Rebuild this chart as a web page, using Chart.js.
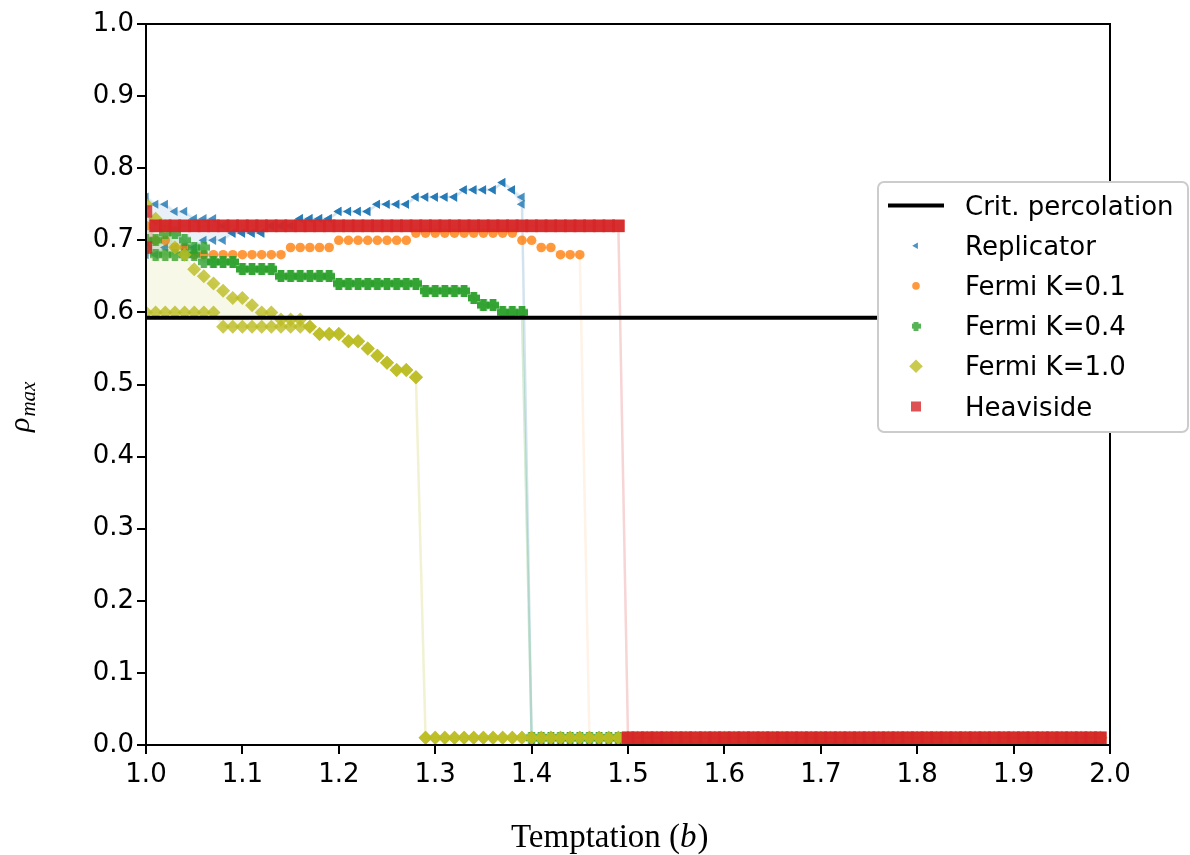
<!DOCTYPE html>
<html><head><meta charset="utf-8">
<script src="https://cdn.jsdelivr.net/npm/chart.js@4.4.0/dist/chart.umd.min.js"></script>
<style>html,body{margin:0;padding:0;background:#fff;}canvas{display:block;}</style>
</head><body>
<canvas id="c" width="1190" height="855"></canvas>
<script>
// ---------------- DATA ----------------
const bValues = [
 1.00,1.01,1.02,1.03,1.04,1.05,1.06,1.07,1.08,1.09,
 1.10,1.11,1.12,1.13,1.14,1.15,1.16,1.17,1.18,1.19,
 1.20,1.21,1.22,1.23,1.24,1.25,1.26,1.27,1.28,1.29,
 1.30,1.31,1.32,1.33,1.34,1.35,1.36,1.37,1.38,1.39,
 1.40,1.41,1.42,1.43,1.44,1.45,1.46,1.47,1.48,1.49,
 1.50,1.51,1.52,1.53,1.54,1.55,1.56,1.57,1.58,1.59,
 1.60,1.61,1.62,1.63,1.64,1.65,1.66,1.67,1.68,1.69,
 1.70,1.71,1.72,1.73,1.74,1.75,1.76,1.77,1.78,1.79,
 1.80,1.81,1.82,1.83,1.84,1.85,1.86,1.87,1.88,1.89,
 1.90,1.91,1.92,1.93,1.94,1.95,1.96,1.97,1.98,1.99];

const replicatorHi = [
 0.76,0.75,0.75,0.74,0.74,0.73,0.73,0.73,0.72,0.71,
 0.71,0.71,0.71,0.72,0.72,0.72,0.73,0.73,0.73,0.73,
 0.74,0.74,0.74,0.74,0.75,0.75,0.75,0.75,0.76,0.76,
 0.76,0.76,0.76,0.77,0.77,0.77,0.77,0.78,0.77,0.76,
 0.01,0.01,0.01,0.01,0.01,0.01,0.01,0.01,0.01,0.01,
 0.01,0.01,0.01,0.01,0.01,0.01,0.01,0.01,0.01,0.01,
 0.01,0.01,0.01,0.01,0.01,0.01,0.01,0.01,0.01,0.01,
 0.01,0.01,0.01,0.01,0.01,0.01,0.01,0.01,0.01,0.01,
 0.01,0.01,0.01,0.01,0.01,0.01,0.01,0.01,0.01,0.01,
 0.01,0.01,0.01,0.01,0.01,0.01,0.01,0.01,0.01,0.01];
const replicatorLo = [
 0.68,0.68,0.69,0.69,0.69,0.69,0.70,0.70,0.70,0.71,
 0.71,0.71,0.71,0.72,0.72,0.72,0.73,0.73,0.73,0.73,
 0.74,0.74,0.74,0.74,0.75,0.75,0.75,0.75,0.76,0.76,
 0.76,0.76,0.76,0.77,0.77,0.77,0.77,0.78,0.77,0.75,
 0.01,0.01,0.01,0.01,0.01,0.01,0.01,0.01,0.01,0.01,
 0.01,0.01,0.01,0.01,0.01,0.01,0.01,0.01,0.01,0.01,
 0.01,0.01,0.01,0.01,0.01,0.01,0.01,0.01,0.01,0.01,
 0.01,0.01,0.01,0.01,0.01,0.01,0.01,0.01,0.01,0.01,
 0.01,0.01,0.01,0.01,0.01,0.01,0.01,0.01,0.01,0.01,
 0.01,0.01,0.01,0.01,0.01,0.01,0.01,0.01,0.01,0.01];
const fermiK01 = [
 0.72,0.70,0.70,0.69,0.69,0.68,0.68,0.68,0.68,0.68,
 0.68,0.68,0.68,0.68,0.68,0.69,0.69,0.69,0.69,0.69,
 0.70,0.70,0.70,0.70,0.70,0.70,0.70,0.70,0.71,0.71,
 0.71,0.71,0.71,0.71,0.71,0.71,0.71,0.71,0.71,0.70,
 0.70,0.69,0.69,0.68,0.68,0.68,0.01,0.01,0.01,0.01,
 0.01,0.01,0.01,0.01,0.01,0.01,0.01,0.01,0.01,0.01,
 0.01,0.01,0.01,0.01,0.01,0.01,0.01,0.01,0.01,0.01,
 0.01,0.01,0.01,0.01,0.01,0.01,0.01,0.01,0.01,0.01,
 0.01,0.01,0.01,0.01,0.01,0.01,0.01,0.01,0.01,0.01,
 0.01,0.01,0.01,0.01,0.01,0.01,0.01,0.01,0.01,0.01];
const fermiK04Hi = [
 0.70,0.70,0.71,0.71,0.70,0.69,0.69,0.67,0.67,0.67,
 0.66,0.66,0.66,0.66,0.65,0.65,0.65,0.65,0.65,0.65,
 0.64,0.64,0.64,0.64,0.64,0.64,0.64,0.64,0.64,0.63,
 0.63,0.63,0.63,0.63,0.62,0.61,0.61,0.60,0.60,0.60,
 0.01,0.01,0.01,0.01,0.01,0.01,0.01,0.01,0.01,0.01,
 0.01,0.01,0.01,0.01,0.01,0.01,0.01,0.01,0.01,0.01,
 0.01,0.01,0.01,0.01,0.01,0.01,0.01,0.01,0.01,0.01,
 0.01,0.01,0.01,0.01,0.01,0.01,0.01,0.01,0.01,0.01,
 0.01,0.01,0.01,0.01,0.01,0.01,0.01,0.01,0.01,0.01,
 0.01,0.01,0.01,0.01,0.01,0.01,0.01,0.01,0.01,0.01];
const fermiK04Lo = [
 0.69,0.68,0.68,0.68,0.68,0.68,0.67,0.67,0.67,0.67,
 0.66,0.66,0.66,0.66,0.65,0.65,0.65,0.65,0.65,0.65,
 0.64,0.64,0.64,0.64,0.64,0.64,0.64,0.64,0.64,0.63,
 0.63,0.63,0.63,0.63,0.62,0.61,0.61,0.60,0.60,0.60,
 0.01,0.01,0.01,0.01,0.01,0.01,0.01,0.01,0.01,0.01,
 0.01,0.01,0.01,0.01,0.01,0.01,0.01,0.01,0.01,0.01,
 0.01,0.01,0.01,0.01,0.01,0.01,0.01,0.01,0.01,0.01,
 0.01,0.01,0.01,0.01,0.01,0.01,0.01,0.01,0.01,0.01,
 0.01,0.01,0.01,0.01,0.01,0.01,0.01,0.01,0.01,0.01,
 0.01,0.01,0.01,0.01,0.01,0.01,0.01,0.01,0.01,0.01];
const fermiK10Hi = [
 0.75,0.73,0.72,0.69,0.68,0.66,0.65,0.64,0.63,0.62,
 0.62,0.61,0.60,0.60,0.59,0.59,0.59,0.58,0.57,0.57,
 0.57,0.56,0.56,0.55,0.54,0.53,0.52,0.52,0.51,0.01,
 0.01,0.01,0.01,0.01,0.01,0.01,0.01,0.01,0.01,0.01,
 0.01,0.01,0.01,0.01,0.01,0.01,0.01,0.01,0.01,0.01,
 0.01,0.01,0.01,0.01,0.01,0.01,0.01,0.01,0.01,0.01,
 0.01,0.01,0.01,0.01,0.01,0.01,0.01,0.01,0.01,0.01,
 0.01,0.01,0.01,0.01,0.01,0.01,0.01,0.01,0.01,0.01,
 0.01,0.01,0.01,0.01,0.01,0.01,0.01,0.01,0.01,0.01,
 0.01,0.01,0.01,0.01,0.01,0.01,0.01,0.01,0.01,0.01];
const fermiK10Lo = [
 0.60,0.60,0.60,0.60,0.60,0.60,0.60,0.60,0.58,0.58,
 0.58,0.58,0.58,0.58,0.58,0.58,0.58,0.58,0.57,0.57,
 0.57,0.56,0.56,0.55,0.54,0.53,0.52,0.52,0.51,0.01,
 0.01,0.01,0.01,0.01,0.01,0.01,0.01,0.01,0.01,0.01,
 0.01,0.01,0.01,0.01,0.01,0.01,0.01,0.01,0.01,0.01,
 0.01,0.01,0.01,0.01,0.01,0.01,0.01,0.01,0.01,0.01,
 0.01,0.01,0.01,0.01,0.01,0.01,0.01,0.01,0.01,0.01,
 0.01,0.01,0.01,0.01,0.01,0.01,0.01,0.01,0.01,0.01,
 0.01,0.01,0.01,0.01,0.01,0.01,0.01,0.01,0.01,0.01,
 0.01,0.01,0.01,0.01,0.01,0.01,0.01,0.01,0.01,0.01];
const heavisideHi = [
 0.74,0.72,0.72,0.72,0.72,0.72,0.72,0.72,0.72,0.72,
 0.72,0.72,0.72,0.72,0.72,0.72,0.72,0.72,0.72,0.72,
 0.72,0.72,0.72,0.72,0.72,0.72,0.72,0.72,0.72,0.72,
 0.72,0.72,0.72,0.72,0.72,0.72,0.72,0.72,0.72,0.72,
 0.72,0.72,0.72,0.72,0.72,0.72,0.72,0.72,0.72,0.72,
 0.01,0.01,0.01,0.01,0.01,0.01,0.01,0.01,0.01,0.01,
 0.01,0.01,0.01,0.01,0.01,0.01,0.01,0.01,0.01,0.01,
 0.01,0.01,0.01,0.01,0.01,0.01,0.01,0.01,0.01,0.01,
 0.01,0.01,0.01,0.01,0.01,0.01,0.01,0.01,0.01,0.01,
 0.01,0.01,0.01,0.01,0.01,0.01,0.01,0.01,0.01,0.01];
const heavisideLo = [
 0.69,0.72,0.72,0.72,0.72,0.72,0.72,0.72,0.72,0.72,
 0.72,0.72,0.72,0.72,0.72,0.72,0.72,0.72,0.72,0.72,
 0.72,0.72,0.72,0.72,0.72,0.72,0.72,0.72,0.72,0.72,
 0.72,0.72,0.72,0.72,0.72,0.72,0.72,0.72,0.72,0.72,
 0.72,0.72,0.72,0.72,0.72,0.72,0.72,0.72,0.72,0.72,
 0.01,0.01,0.01,0.01,0.01,0.01,0.01,0.01,0.01,0.01,
 0.01,0.01,0.01,0.01,0.01,0.01,0.01,0.01,0.01,0.01,
 0.01,0.01,0.01,0.01,0.01,0.01,0.01,0.01,0.01,0.01,
 0.01,0.01,0.01,0.01,0.01,0.01,0.01,0.01,0.01,0.01,
 0.01,0.01,0.01,0.01,0.01,0.01,0.01,0.01,0.01,0.01];
const critPercolation = 0.5927;
const critRange = [1.0, 2.0];
const xTickLabels = ['1.0','1.1','1.2','1.3','1.4','1.5','1.6','1.7','1.8','1.9','2.0'];
const yTickLabels = ['0.0','0.1','0.2','0.3','0.4','0.5','0.6','0.7','0.8','0.9','1.0'];
const legendLabels = ['Crit. percolation','Replicator','Fermi K=0.1','Fermi K=0.4','Fermi K=1.0','Heaviside'];

// ---------------- STYLE ----------------
const C = {
  blue:[31,119,180], orange:[255,127,14], green:[44,160,44], olive:[188,189,34], red:[214,39,40]
};
const rgba = (c,a) => `rgba(${c[0]},${c[1]},${c[2]},${a})`;
const MA = 0.8;   // marker alpha
const LA = 0.1;   // connecting line alpha
const FA = 0.1;   // fill alpha

function plusCanvas(size, color, arm) {
  const c = document.createElement('canvas');
  c.width = size; c.height = size;
  const g = c.getContext('2d');
  const h = size/2, a = size*arm;
  g.fillStyle = color;
  g.beginPath();
  g.moveTo(h-a,0); g.lineTo(h+a,0); g.lineTo(h+a,h-a); g.lineTo(size,h-a); g.lineTo(size,h+a);
  g.lineTo(h+a,h+a); g.lineTo(h+a,size); g.lineTo(h-a,size); g.lineTo(h-a,h+a); g.lineTo(0,h+a);
  g.lineTo(0,h-a); g.lineTo(h-a,h-a); g.closePath(); g.fill();
  return c;
}
const greenPlus = plusCanvas(12, rgba(C.green, MA), 0.27);

const pts = arr => bValues.map((b,i) => ({x:b, y:arr[i]}));

function ds(label, arr, color, style, radius, rotation, order, fill) {
  return {
    label, data: pts(arr), order, clip: 0,
    showLine: true, tension: 0,
    borderColor: rgba(color, LA), borderWidth: 2.5,
    backgroundColor: rgba(color, FA),
    fill: fill ? '+1' : false,
    pointStyle: style, pointRadius: radius, pointRotation: rotation,
    pointBackgroundColor: rgba(color, MA), pointBorderWidth: 0,
    pointHoverRadius: radius
  };
}

const datasets = [
  { label: legendLabels[0], data: critRange.map(x => ({x, y: critPercolation})), order: 0, clip: 0,
    showLine: true, borderColor: '#000', borderWidth: 4, pointRadius: 0, fill: false },
  ds(legendLabels[1], replicatorHi, C.blue, 'triangle', 5.3, -90, 5, true),
  ds(legendLabels[1], replicatorLo, C.blue, 'triangle', 5.3, -90, 5, false),
  ds(legendLabels[2], fermiK01, C.orange, 'circle', 4.8, 0, 4, false),
  ds(legendLabels[3], fermiK04Hi, C.green, greenPlus, 6, 0, 3, true),
  ds(legendLabels[3], fermiK04Lo, C.green, greenPlus, 6, 0, 3, false),
  ds(legendLabels[4], fermiK10Hi, C.olive, 'rectRot', 7, 0, 2, true),
  ds(legendLabels[4], fermiK10Lo, C.olive, 'rectRot', 7, 0, 2, false),
  ds(legendLabels[5], heavisideHi, C.red, 'rect', 8.8, 0, 1, true),
  ds(legendLabels[5], heavisideLo, C.red, 'rect', 8.8, 0, 1, false)
];

const tickFont = { family: 'DejaVu Sans', size: 26 };

const framePlugin = {
  id: 'frame',
  afterDraw(chart) {
    const ctx = chart.ctx, a = chart.chartArea;
    ctx.save();
    ctx.strokeStyle = '#000'; ctx.lineWidth = 2;
    ctx.strokeRect(a.left, a.top, a.right - a.left, a.bottom - a.top);

    // x title
    ctx.fillStyle = '#000';
    ctx.textBaseline = 'alphabetic'; ctx.textAlign = 'left';
    const xs = 33;
    let x = 511; const yb = 847;
    ctx.font = `${xs}px "Liberation Serif"`;
    ctx.fillText('Temptation (', x, yb); x += ctx.measureText('Temptation (').width;
    ctx.font = `italic ${xs}px "Liberation Serif"`;
    ctx.fillText('b', x, yb); x += ctx.measureText('b').width + 1;
    ctx.font = `${xs}px "Liberation Serif"`;
    ctx.fillText(')', x, yb);

    // y title rho_max
    ctx.save();
    ctx.translate(29, 432);
    ctx.rotate(-Math.PI/2);
    ctx.font = 'italic 30px "Liberation Serif"';
    ctx.fillText('ρ', 0, 0);
    const w = ctx.measureText('ρ').width;
    ctx.font = 'italic 21px "Liberation Serif"';
    ctx.fillText('max', w + 1, 6);
    ctx.restore();

    // legend
    const L = {x: 878, y: 182, w: 310, h: 250, r: 6};
    ctx.beginPath();
    ctx.moveTo(L.x + L.r, L.y);
    ctx.arcTo(L.x + L.w, L.y, L.x + L.w, L.y + L.h, L.r);
    ctx.arcTo(L.x + L.w, L.y + L.h, L.x, L.y + L.h, L.r);
    ctx.arcTo(L.x, L.y + L.h, L.x, L.y, L.r);
    ctx.arcTo(L.x, L.y, L.x + L.w, L.y, L.r);
    ctx.closePath();
    ctx.fillStyle = '#fff'; ctx.fill();
    ctx.strokeStyle = '#cccccc'; ctx.lineWidth = 2; ctx.stroke();

    const mx = 916, tx = 965;
    const rowY = i => 205.5 + 40.2*i;
    ctx.strokeStyle = '#000'; ctx.lineWidth = 4;
    ctx.beginPath(); ctx.moveTo(888, rowY(0)); ctx.lineTo(944, rowY(0)); ctx.stroke();
    let y = rowY(1), r = 3.8;
    ctx.fillStyle = rgba(C.blue, MA);
    ctx.beginPath(); ctx.moveTo(mx - r, y); ctx.lineTo(mx + r*0.5, y - r*0.866); ctx.lineTo(mx + r*0.5, y + r*0.866); ctx.closePath(); ctx.fill();
    y = rowY(2);
    ctx.fillStyle = rgba(C.orange, MA);
    ctx.beginPath(); ctx.arc(mx, y, 3.8, 0, Math.PI*2); ctx.fill();
    y = rowY(3);
    ctx.drawImage(plusCanvas(9, rgba(C.green, MA), 0.27), mx - 4.5, y - 4.5);
    y = rowY(4); r = 6.8;
    ctx.fillStyle = rgba(C.olive, MA);
    ctx.beginPath(); ctx.moveTo(mx, y - r); ctx.lineTo(mx + r, y); ctx.lineTo(mx, y + r); ctx.lineTo(mx - r, y); ctx.closePath(); ctx.fill();
    y = rowY(5);
    ctx.fillStyle = rgba(C.red, MA);
    ctx.fillRect(mx - 5, y - 5, 10, 10);

    ctx.fillStyle = '#000';
    ctx.font = '26px "DejaVu Sans"';
    ctx.textAlign = 'left'; ctx.textBaseline = 'alphabetic';
    legendLabels.forEach((t, i) => ctx.fillText(t, tx, rowY(i) + 9));
    ctx.restore();
  }
};

new Chart(document.getElementById('c'), {
  type: 'line',
  data: { datasets },
  options: {
    responsive: false, animation: false, devicePixelRatio: 1,
    layout: { padding: { left: 0, right: 80, top: 24, bottom: 0 } },
    scales: {
      x: {
        type: 'linear', min: 1, max: 2,
        ticks: { stepSize: 0.1, font: tickFont, color: '#000', padding: 6, maxRotation: 0, autoSkip: false,
                 callback: (v, i) => xTickLabels[i] ?? Number(v).toFixed(1) },
        grid: { drawOnChartArea: false, drawTicks: true, tickLength: 9, lineWidth: 2, color: '#000' },
        border: { display: true, color: '#000', width: 2 },
        afterFit: s => { s.height = 110; }
      },
      y: {
        type: 'linear', min: 0, max: 1,
        ticks: { stepSize: 0.1, font: tickFont, color: '#000', padding: 3, autoSkip: false,
                 callback: (v, i) => yTickLabels[i] ?? Number(v).toFixed(1) },
        grid: { drawOnChartArea: false, drawTicks: true, tickLength: 9, lineWidth: 2, color: '#000' },
        border: { display: true, color: '#000', width: 2 },
        afterFit: s => { s.width = 146; }
      }
    },
    plugins: { legend: { display: false }, tooltip: { enabled: false } }
  },
  plugins: [framePlugin]
});
</script>
</body></html>
